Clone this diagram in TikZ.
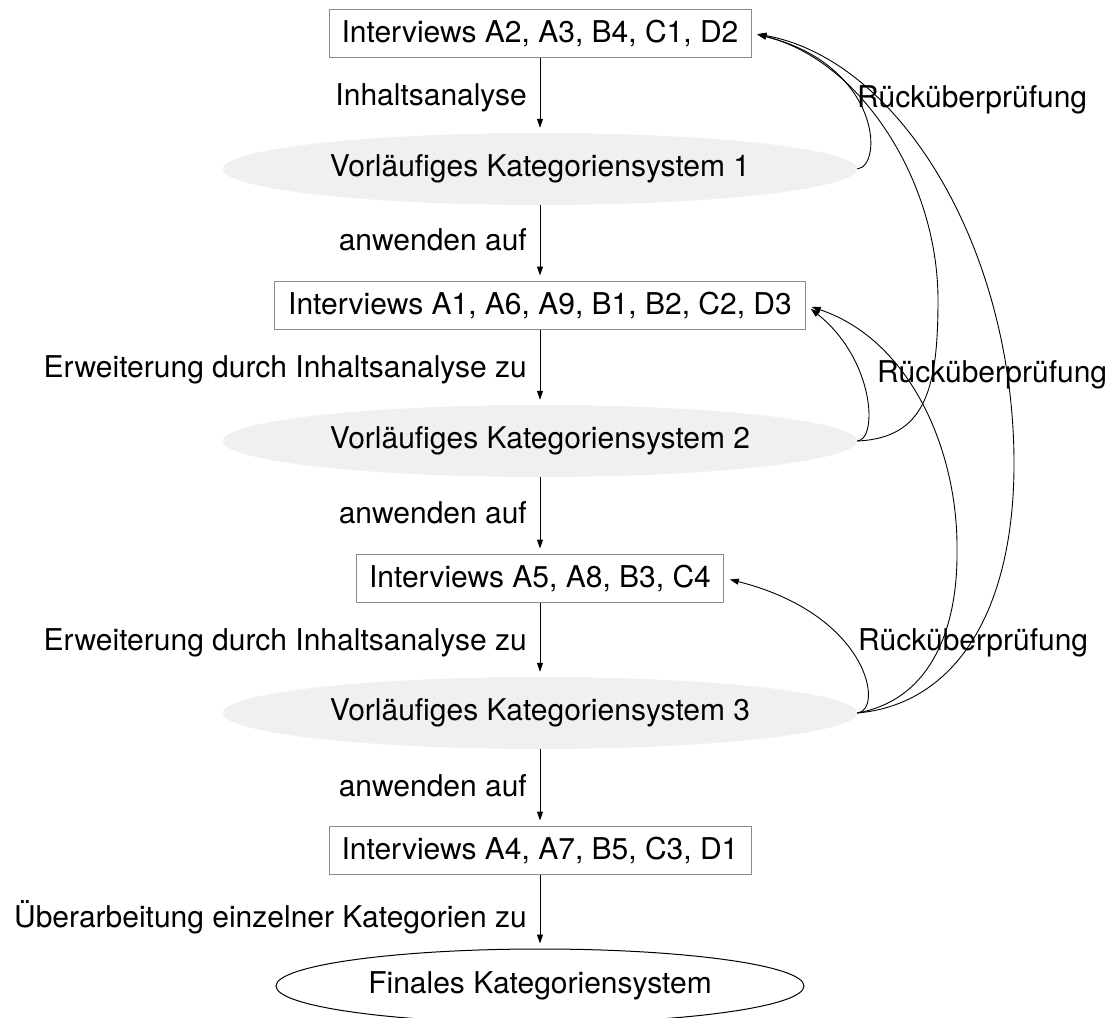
\documentclass[tikz,border=0pt]{standalone}
\usepackage{fontspec}
\setmainfont{TeX Gyre Heros}
\usetikzlibrary{arrows.meta,shapes.geometric}
\begin{document}
\begin{tikzpicture}[x=1pt,y=-1pt,
  every node/.style={font=\fontsize{30}{36}\selectfont},
  box/.style={draw=black!45,line width=1pt,minimum height=48pt,inner sep=0pt},
  cat/.style={ellipse,fill=black!6,minimum width=634pt,minimum height=72pt,inner sep=0pt},
  fin/.style={ellipse,draw,line width=1pt,fill=white,minimum width=528pt,minimum height=74pt,inner sep=0pt},
  lab/.style={anchor=east,inner sep=0pt},
  rlab/.style={anchor=west,inner sep=0pt},
  flow/.style={-{Triangle[length=9pt,width=6pt]},line width=1pt,shorten >=5pt},
  back/.style={-{Triangle[length=9pt,width=6pt]},line width=0.9pt,shorten >=6pt}
]
\useasboundingbox (0,0) rectangle (1112,1018);
% nodes
\node[box,minimum width=422pt] (b1) at (540,33) {Interviews A2, A3, B4, C1, D2};
\node[cat] (e1) at (540,169) {Vorläufiges Kategoriensystem 1};
\node[box,minimum width=531pt] (b2) at (540,305) {Interviews A1, A6, A9, B1, B2, C2, D3};
\node[cat] (e2) at (540,441) {Vorläufiges Kategoriensystem 2};
\node[box,minimum width=367pt] (b3) at (540,578) {Interviews A5, A8, B3, C4};
\node[cat] (e3) at (540,713) {Vorläufiges Kategoriensystem 3};
\node[box,minimum width=422pt] (b4) at (540,850) {Interviews A4, A7, B5, C3, D1};
\node[fin] (f) at (540,986) {Finales Kategoriensystem};
% vertical flow
\draw[flow] (b1) -- (e1);
\draw[flow] (e1) -- (b2);
\draw[flow] (b2) -- (e2);
\draw[flow] (e2) -- (b3);
\draw[flow] (b3) -- (e3);
\draw[flow] (e3) -- (b4);
\draw[flow] (b4) -- (f);
% edge labels
\node[lab] (l1) at (527,98) {Inhaltsanalyse};
\node[lab] (l2) at (527,240) {anwenden auf};
\node[lab] (l3) at (527,370) {Erweiterung durch Inhaltsanalyse zu};
\node[lab] (l4) at (527,513) {anwenden auf};
\node[lab] (l5) at (527,643) {Erweiterung durch Inhaltsanalyse zu};
\node[lab] (l6) at (527,786) {anwenden auf};
\node[lab] (l7) at (527,917) {Überarbeitung einzelner Kategorien zu};
% back edges
\draw[back] (e1.east) .. controls (884,166) and (880,65) .. (b1.east);
\draw[back] (e2.east) .. controls (925,438) and (938,390) .. (938,300)
  .. controls (938,180) and (860,60) .. (b1.east);
\draw[back] (e3.east) .. controls (950,705) and (1012,620) .. (1014,470)
  .. controls (1016,250) and (900,60) .. (b1.east);
\draw[back] (e2.east) .. controls (878,440) and (875,360) .. (b2.east);
\draw[back] (e3.east) .. controls (930,700) and (958,630) .. (957,550)
  .. controls (958,450) and (910,340) .. (b2.east);
\draw[back] (e3.east) .. controls (884,711) and (870,615) .. (b3.east);
% back labels
\node[rlab] (r1) at (857,100) {Rücküberprüfung};
\node[rlab] (r2) at (877,375) {Rücküberprüfung};
\node[rlab] (r3) at (858,643) {Rücküberprüfung};
\end{tikzpicture}
\end{document}
